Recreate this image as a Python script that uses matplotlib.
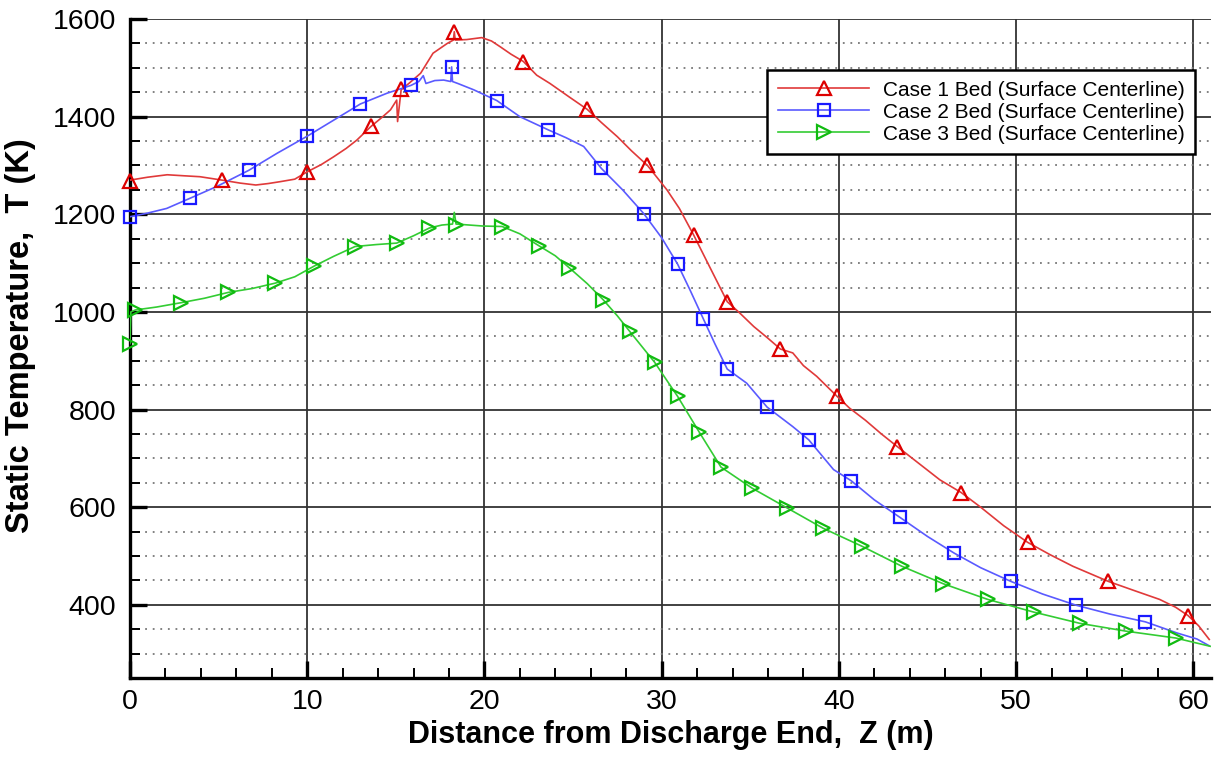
import matplotlib
matplotlib.use("Agg")
import matplotlib.pyplot as plt
from matplotlib.lines import Line2D
from matplotlib.ticker import MultipleLocator

plt.rcParams['font.family'] = ['Liberation Sans', 'DejaVu Sans']

# ---- Case 1 bed: surface centerline temperature ----
case1_line_z = [0.0, 1.0, 2.1, 3.0, 3.95, 5.2, 6.2, 7.1, 7.8, 8.5, 9.3, 10.0, 10.8, 11.5,
                12.2, 12.8, 13.6, 14.2, 14.7, 15.05, 15.1, 15.3, 15.8, 16.4, 17.1, 17.9,
                18.25, 18.3, 18.35, 19.0, 19.85, 20.4, 20.9, 21.5, 22.2, 22.95, 23.7, 24.8,
                25.8, 26.6, 27.5, 28.3, 29.2, 30.3, 31.0, 31.8, 32.7, 33.7, 34.4, 35.2,
                36.0, 36.7, 37.4, 38.0, 38.75, 39.9, 40.6, 41.5, 42.4, 43.3, 44.5, 45.7,
                46.9, 48.0, 49.3, 50.65, 51.9, 53.2, 55.2, 56.6, 58.1, 59.0, 59.7, 60.3, 60.9]
case1_line_t = [1270, 1276, 1281, 1279, 1277, 1270, 1264, 1260, 1263, 1267, 1272, 1287, 1302, 1318,
                1335, 1352, 1380, 1398, 1414, 1434, 1390, 1455, 1470, 1489, 1530, 1550,
                1557, 1574, 1557, 1558, 1562, 1555, 1543, 1528, 1513, 1485, 1468, 1440,
                1415, 1388, 1359, 1330, 1300, 1250, 1212, 1158, 1093, 1021, 998, 970,
                946, 924, 916, 890, 868, 827, 803, 778, 750, 724, 690, 656,
                630, 600, 562, 528, 503, 479, 448, 430, 411, 395, 378, 357, 329]
case1_mark_z = [0.0, 5.2, 10.0, 13.6, 15.3, 18.3, 22.2, 25.8, 29.2, 31.8, 33.7, 36.7, 39.9,
                43.3, 46.9, 50.65, 55.2, 59.7]
case1_mark_t = [1268, 1271, 1287, 1381, 1456, 1574, 1513, 1415, 1300, 1158, 1021, 924, 827,
                724, 630, 528, 448, 378]

# ---- Case 2 bed ----
case2_line_z = [0.0, 0.94, 2.07, 3.4, 4.9, 6.7, 8.3, 10.0, 11.5, 13.0, 14.5, 15.85, 16.3, 16.55,
                16.7, 17.2, 17.7, 18.1, 18.15, 18.2, 18.5, 19.4, 20.7, 22.0, 23.6, 24.6, 25.6,
                26.6, 27.8, 29.0, 30.0, 30.9, 31.6, 32.35, 33.0, 33.7, 34.8, 35.95, 37.4, 38.3,
                39.7, 40.7, 42.0, 43.45, 45.0, 46.5, 48.0, 49.7, 51.5, 53.4, 55.3, 57.3, 59.1,
                60.2, 60.9]
case2_line_t = [1195, 1202, 1212, 1233, 1257, 1290, 1325, 1360, 1393, 1426, 1448, 1464, 1472, 1484,
                1468, 1474, 1475, 1472, 1502, 1472, 1468, 1455, 1433, 1400, 1373, 1357, 1339,
                1294, 1250, 1201, 1152, 1098, 1045, 986, 935, 883, 854, 805, 765, 738,
                677, 654, 615, 579, 540, 506, 476, 448, 422, 399, 381, 365, 342,
                330, 316]
case2_mark_z = [0.0, 3.4, 6.7, 10.0, 13.0, 15.85, 18.15, 20.7, 23.6, 26.6, 29.0, 30.9, 32.35,
                33.7, 35.95, 38.3, 40.7, 43.45, 46.5, 49.7, 53.4, 57.3]
case2_mark_t = [1195, 1233, 1290, 1360, 1426, 1464, 1502, 1433, 1373, 1294, 1201, 1098, 986,
                883, 805, 738, 654, 579, 506, 448, 399, 365]

# ---- Case 3 bed ----
case3_line_z = [0.0, 0.05, 0.3, 1.5, 2.9, 4.2, 5.55, 6.9, 8.2, 9.3, 10.4, 11.5, 12.7, 13.9,
                15.05, 16.0, 16.9, 17.6, 18.2, 18.3, 18.4, 19.9, 21.0, 22.0, 23.1, 24.0, 24.8,
                25.8, 26.7, 27.5, 28.2, 29.6, 30.9, 32.1, 33.35, 35.1, 37.1, 39.1, 41.3, 43.55,
                45.9, 48.4, 51.0, 53.6, 56.2, 59.0, 60.95]
case3_line_t = [935, 1000, 1004, 1010, 1019, 1028, 1040, 1048, 1059, 1072, 1094, 1114, 1134, 1138,
                1141, 1156, 1172, 1178, 1180, 1204, 1180, 1176, 1175, 1160, 1135, 1115, 1090,
                1058, 1025, 992, 960, 897, 827, 755, 682, 639, 598, 557, 520, 479,
                443, 411, 385, 362, 346, 332, 315]
case3_mark_z = [0.0, 0.3, 2.9, 5.55, 8.2, 10.4, 12.7, 15.05, 16.9, 18.4, 21.0, 23.1, 24.8, 26.7,
                28.2, 29.6, 30.9, 32.1, 33.35, 35.1, 37.1, 39.1, 41.3, 43.55, 45.9, 48.4, 51.0,
                53.6, 56.2, 59.0]
case3_mark_t = [935, 1004, 1019, 1040, 1059, 1094, 1134, 1141, 1172, 1178, 1175, 1135, 1090, 1025,
                960, 897, 827, 755, 682, 639, 598, 557, 520, 479, 443, 411, 385,
                362, 346, 332]

labels = ["Case 1 Bed (Surface Centerline)",
          "Case 2 Bed (Surface Centerline)",
          "Case 3 Bed (Surface Centerline)"]
line_colors = ["#e03a3a", "#5a5aff", "#33cc33"]
mark_colors = ["#dd0000", "#1a1aff", "#11bb11"]
markers = ["^", "s", ">"]
msizes = [10, 9, 10]

fig = plt.figure(figsize=(12.17, 7.59), dpi=100)
ax = fig.add_axes([0.1068, 0.1067, 0.8883, 0.8682])

series = [
    (case1_line_z, case1_line_t, case1_mark_z, case1_mark_t),
    (case2_line_z, case2_line_t, case2_mark_z, case2_mark_t),
    (case3_line_z, case3_line_t, case3_mark_z, case3_mark_t),
]

for i, (lz, lt, mz, mt) in enumerate(series):
    ax.plot(lz, lt, color=line_colors[i], lw=1.2, zorder=3)
    ax.plot(mz, mt, linestyle="none", marker=markers[i], ms=msizes[i],
            mfc="none", mec=mark_colors[i], mew=1.6, zorder=4, clip_on=False)

ax.set_xlim(0, 61)
ax.set_ylim(250, 1600)

ax.xaxis.set_major_locator(MultipleLocator(10))
ax.xaxis.set_minor_locator(MultipleLocator(2))
ax.yaxis.set_major_locator(MultipleLocator(200))
ax.yaxis.set_minor_locator(MultipleLocator(50))
ax.set_yticks(range(400, 1601, 200))

ax.grid(which="major", color="#333333", lw=1.3, ls="-", zorder=1)
ax.grid(which="minor", axis="y", color="#777777", lw=1.3, ls=(0, (1, 3.2)), zorder=1)
ax.grid(which="minor", axis="x", visible=False)
ax.set_axisbelow(True)

for side in ("top", "right"):
    ax.spines[side].set_visible(False)
for side in ("left", "bottom"):
    ax.spines[side].set_linewidth(2.4)
    ax.spines[side].set_color("black")

ax.tick_params(which="major", direction="in", length=12, width=2.4, labelsize=20.5,
               colors="black", pad=8)
ax.tick_params(which="minor", direction="in", length=7, width=1.4, colors="black")
ax.tick_params(axis="y", which="major", pad=10)

ax.set_xlabel("Distance from Discharge End,  Z (m)", fontsize=22, fontweight="bold")
ax.set_ylabel("Static Temperature,  T (K)", fontsize=23.5, fontweight="bold")
ax.xaxis.set_label_coords(0.5, -0.064)
ax.yaxis.set_label_coords(-0.087, 0.52)

handles = [Line2D([0], [0], color=line_colors[i], lw=1.2, marker=markers[i], ms=msizes[i] - 0.5,
                  mfc="none", mec=mark_colors[i], mew=1.6) for i in range(3)]
leg = ax.legend(handles, labels, loc="upper left", bbox_to_anchor=(0.5895, 0.9225),
                fontsize=15, frameon=True, fancybox=False, framealpha=1, edgecolor="black",
                handlelength=4.4, handletextpad=0.67, labelspacing=0.15, borderpad=0.5,
                numpoints=1, borderaxespad=0)
leg.get_frame().set_linewidth(1.8)
leg.set_zorder(10)

fig.savefig("out.png", dpi=100)
